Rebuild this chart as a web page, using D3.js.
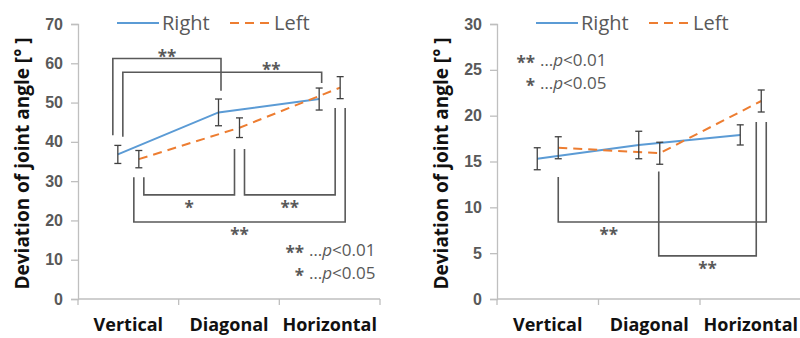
<!DOCTYPE html>
<html>
<head>
<meta charset="utf-8">
<script src="https://cdn.jsdelivr.net/npm/d3@7"></script>
<style>
  body { margin: 0; background: #fff; }
  svg { display: block; font-family: "Open Sans", sans-serif; }
</style>
</head>
<body>
<svg id="chart" width="800" height="338"></svg>
<script>
// data
const categories = ['Vertical', 'Diagonal', 'Horizontal']
const seriesNames = ['Right', 'Left']

// left panel
const rightMeanA = [36.8, 47.5, 50.9]
const rightErrA = [2.3, 3.4, 2.8]
const leftMeanA = [35.6, 43.6, 53.8]
const leftErrA = [2.2, 2.5, 2.8]
const yTicksA = [0, 10, 20, 30, 40, 50, 60, 70]
// brackets: [cat1, series1, side1, top1, cat2, series2, side2, top2, bar, label, labelAt]
const bracketsA = [
  [0, 'Right', -1, 41.7, 1, 'Right', 0.5, 53.0, 61.2, '**', null],
  [0, 'Right', 1, 41.3, 2, 'Right', 0.5, 55.0, 57.7, '**', 1.42],
  [0, 'Left', 1, 31.0, 1, 'Left', -1, 38.2, 26.5, '*', null],
  [1, 'Left', 1, 38.2, 2, 'Left', -1, 48.6, 26.5, '**', null],
  [0, 'Left', -1, 31.0, 2, 'Left', 1, 48.6, 19.6, '**', null]
]

// right panel
const rightMeanB = [15.3, 16.8, 17.9]
const rightErrB = [1.2, 1.5, 1.1]
const leftMeanB = [16.5, 15.9, 21.6]
const leftErrB = [1.2, 1.2, 1.2]
const yTicksB = [0, 5, 10, 15, 20, 25, 30]
const bracketsB = [
  [0, 'Left', 0, 13.3, 2, 'Left', 1, 19.3, 8.4, '**', 0.6],
  [1, 'Left', -0.2, 13.9, 2, 'Left', -1, 19.3, 4.7, '**', null]
]

const sigNotes = [['**', '0.01'], ['*', '0.05']]

const svg = d3.select('#chart')
const blue = '#5b9bd5'
const orange = '#ed7d31'
const grey = '#595959'

const drawPanel = (cfg) => {
  const g = svg.append('g')
  const { x0, x1, yMax, ticks } = cfg
  const top = 24, bottom = 299

  const x = d3.scaleBand().domain(categories).range([x0, x1]).paddingInner(0).paddingOuter(0)
  const y = d3.scaleLinear().domain([0, yMax]).range([bottom, top])
  const off = { Right: -10.5, Left: 10.5 }
  const px = (i, s, side = 0) => x(categories[i]) + x.bandwidth() / 2 + off[s] + side * 5
  const xc = d3.scaleLinear().domain([0, 1]).range([x(categories[0]) + x.bandwidth() / 2, x(categories[1]) + x.bandwidth() / 2])

  // y axis
  const yAxis = g.append('g')
    .attr('transform', `translate(${x0},0)`)
    .call(d3.axisLeft(y).tickValues(ticks).tickSize(7).tickPadding(8))
  yAxis.select('.domain').attr('stroke', '#bfbfbf').attr('stroke-width', 1.3)
  yAxis.selectAll('.tick line').attr('stroke', '#bfbfbf').attr('stroke-width', 1.3)
  yAxis.selectAll('.tick text')
    .attr('fill', grey)
    .style('font-size', '16px')
    .style('font-weight', '600')

  // x axis
  const xAxis = g.append('g')
    .attr('transform', `translate(0,${bottom})`)
  xAxis.append('line')
    .attr('x1', x0).attr('x2', x1)
    .attr('stroke', '#bfbfbf').attr('stroke-width', 1.3)
  const bounds = categories.map(c => x(c)).concat([x1])
  xAxis.selectAll('.tk')
    .data(bounds)
    .enter()
    .append('line')
    .attr('x1', d => d).attr('x2', d => d)
    .attr('y1', 0).attr('y2', 6)
    .attr('stroke', '#bfbfbf').attr('stroke-width', 1.3)
  xAxis.selectAll('.lbl')
    .data(categories)
    .enter()
    .append('text')
    .attr('x', d => x(d) + x.bandwidth() / 2)
    .attr('y', 32)
    .attr('text-anchor', 'middle')
    .style('font-size', '18px')
    .style('font-weight', 'bold')
    .attr('fill', '#111')
    .text(d => d)

  // y title
  g.append('text')
    .attr('transform', `translate(${x0 - 49},${(top + bottom) / 2 + 2}) rotate(-90)`)
    .attr('text-anchor', 'middle')
    .style('font-size', '19px')
    .style('font-weight', 'bold')
    .attr('fill', '#111')
    .text('Deviation of joint angle [°  ]')

  // series
  const series = [
    { name: 'Right', mean: cfg.rightMean, err: cfg.rightErr, color: blue, dash: null },
    { name: 'Left', mean: cfg.leftMean, err: cfg.leftErr, color: orange, dash: '9,6' }
  ]
  series.forEach(s => {
    const line = d3.line()
      .x((d, i) => px(i, s.name))
      .y(d => y(d))
    g.append('path')
      .datum(s.mean)
      .attr('d', line)
      .attr('fill', 'none')
      .attr('stroke', s.color)
      .attr('stroke-width', 2)
      .attr('stroke-dasharray', s.dash)
  })
  series.forEach(s => {
    const eb = g.append('g').attr('stroke', '#404040').attr('stroke-width', 1.3)
    s.mean.forEach((m, i) => {
      const cx = px(i, s.name)
      const lo = y(m - s.err[i]), hi = y(m + s.err[i])
      eb.append('line').attr('x1', cx).attr('x2', cx).attr('y1', lo).attr('y2', hi)
      eb.append('line').attr('x1', cx - 3.5).attr('x2', cx + 3.5).attr('y1', lo).attr('y2', lo)
      eb.append('line').attr('x1', cx - 3.5).attr('x2', cx + 3.5).attr('y1', hi).attr('y2', hi)
    })
  })

  // significance brackets
  cfg.brackets.forEach(b => {
    const [c1, s1, sd1, t1, c2, s2, sd2, t2, bar, label, at] = b
    const xa = px(c1, s1, sd1), xb = px(c2, s2, sd2)
    g.append('path')
      .attr('d', `M${xa},${y(t1)}V${y(bar)}H${xb}V${y(t2)}`)
      .attr('fill', 'none')
      .attr('stroke', grey)
      .attr('stroke-width', 1.6)
    const above = bar > Math.max(t1, t2)
    g.append('text')
      .attr('x', at == null ? (xa + xb) / 2 : xc(at))
      .attr('y', above ? y(bar) + 4 : y(bar) + 19)
      .attr('text-anchor', 'middle')
      .style('font-size', '17px')
      .style('font-weight', 'bold')
      .attr('fill', grey)
      .text(label)
  })

  // p-value notes
  sigNotes.forEach((n, i) => {
    const ny = cfg.noteY + i * 23
    g.append('text')
      .attr('x', cfg.noteX)
      .attr('y', ny + 9)
      .attr('text-anchor', 'end')
      .style('font-size', '17px')
      .style('font-weight', 'bold')
      .attr('fill', grey)
      .text(n[0])
    const t = g.append('text')
      .attr('x', cfg.noteX + 5)
      .attr('y', ny + 6)
      .style('font-size', '17px')
      .attr('fill', grey)
    t.append('tspan').text('…')
    t.append('tspan').style('font-style', 'italic').text('p')
    t.append('tspan').text('<' + n[1])
  })

  // legend
  const lg = g.append('g').attr('transform', `translate(${x0 + 39},23)`)
  lg.append('line').attr('x1', 0).attr('x2', 42).attr('stroke', blue).attr('stroke-width', 2)
  lg.append('text').attr('x', 45).attr('y', 7).style('font-size', '20px').attr('fill', grey).text(seriesNames[0])
  lg.append('line').attr('x1', 113).attr('x2', 156).attr('stroke', orange).attr('stroke-width', 2).attr('stroke-dasharray', '9,6')
  lg.append('text').attr('x', 157).attr('y', 7).style('font-size', '20px').attr('fill', grey).text(seriesNames[1])
}

drawPanel({
  x0: 78, x1: 380, yMax: 70, ticks: yTicksA,
  rightMean: rightMeanA, rightErr: rightErrA, leftMean: leftMeanA, leftErr: leftErrA,
  brackets: bracketsA, noteX: 304, noteY: 250
})
drawPanel({
  x0: 497, x1: 801.5, yMax: 30, ticks: yTicksB,
  rightMean: rightMeanB, rightErr: rightErrB, leftMean: leftMeanB, leftErr: leftErrB,
  brackets: bracketsB, noteX: 535, noteY: 60
})
</script>
</body>
</html>
